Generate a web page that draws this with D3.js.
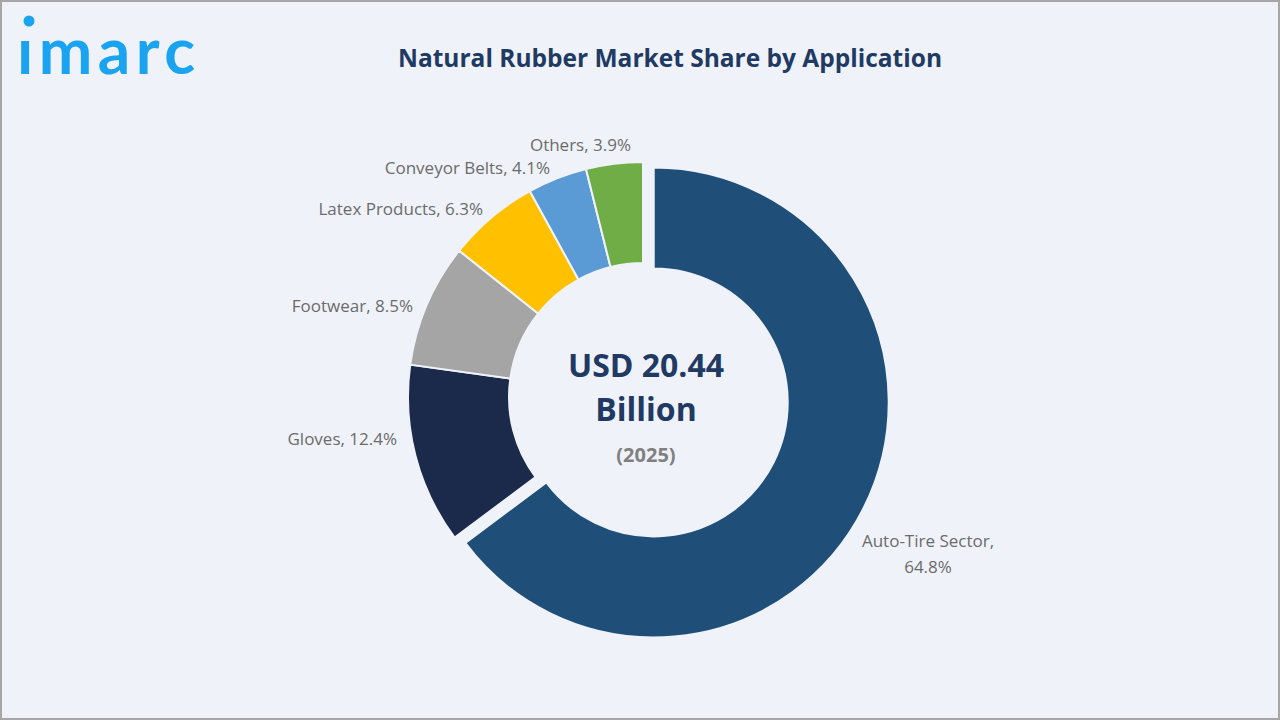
<!DOCTYPE html>
<html><head><meta charset="utf-8">
<script src="https://cdn.jsdelivr.net/npm/d3@7"></script>
<style>body{margin:0;background:#fff}svg{display:block}</style></head>
<body><svg id="c" width="1280" height="720"></svg>
<script>
const categories = ["Auto-Tire Sector","Gloves","Footwear","Latex Products","Conveyor Belts","Others"];
const values = [64.8,12.4,8.5,6.3,4.1,3.9];
const colors = ["#1f4e79","#1b2a4a","#a5a5a5","#ffc000","#5b9bd5","#70ad47"];
const labelText = ["Auto-Tire Sector,|64.8%","Gloves, 12.4%","Footwear, 8.5%","Latex Products, 6.3%","Conveyor Belts, 4.1%","Others, 3.9%"];
const labelPos = [[928,547,"middle"],[397,445,"end"],[413,312,"end"],[483,215,"end"],[550,174,"end"],[631,151,"end"]];

const svg = d3.select("#c");
const font = "'Open Sans', 'Noto Sans', sans-serif";
svg.append("rect").attr("x",1).attr("y",1).attr("width",1278).attr("height",718)
  .attr("fill","#eff3f9").attr("stroke","#a6a6a6").attr("stroke-width",2);
// logo
svg.append("text").attr("x",17).attr("y",74).attr("font-family","Lato, 'Open Sans', sans-serif")
  .attr("font-weight",700).attr("font-size",64).attr("fill","#1aa3f0").attr("letter-spacing",2)
  .attr("textLength",180).text("ımarc");
svg.append("circle").attr("cx",29).attr("cy",21).attr("r",5.5).attr("fill","#1aa3f0");
svg.append("text").attr("x",670).attr("y",67).attr("text-anchor","middle").attr("font-family",font)
  .attr("font-weight",700).attr("font-size",24.5).attr("fill","#213a63").text("Natural Rubber Market Share by Application");

const cx=643, cy=397, R=235, r=134;
const pie = d3.pie().sort(null).value(d=>d)(values);
const arc = d3.arc().innerRadius(r).outerRadius(R);
const g = svg.append("g").attr("transform",`translate(${cx},${cy})`);
g.selectAll("path").data(pie).join("path")
  .attr("d",arc).attr("fill",(d,i)=>colors[i]).attr("stroke","#eff3f9").attr("stroke-width",2)
  .attr("transform",(d,i)=>{ if(i!==0) return null; const a=(d.startAngle+d.endAngle)/2; return `translate(${12*Math.sin(a)},${-12*Math.cos(a)})`;});

labelText.forEach((t,i)=>{
  const [x,y,anc]=labelPos[i];
  const tx = svg.append("text").attr("x",x).attr("y",y).attr("text-anchor",anc).attr("font-family",font)
    .attr("font-size",17).attr("fill","#6b6b6b");
  t.split("|").forEach((s,j)=>tx.append("tspan").attr("x",x).attr("dy",j?26:0).text(s));
});
svg.append("text").attr("x",cx+3).attr("y",377).attr("text-anchor","middle").attr("font-family",font)
  .attr("font-weight",700).attr("font-size",32).attr("fill","#213a63").text("USD 20.44");
svg.append("text").attr("x",cx+3).attr("y",421).attr("text-anchor","middle").attr("font-family",font)
  .attr("font-weight",700).attr("font-size",32).attr("fill","#213a63").text("Billion");
svg.append("text").attr("x",cx+3).attr("y",462).attr("text-anchor","middle").attr("font-family",font)
  .attr("font-weight",700).attr("font-size",20).attr("fill","#808080").text("(2025)");
</script></body></html>
